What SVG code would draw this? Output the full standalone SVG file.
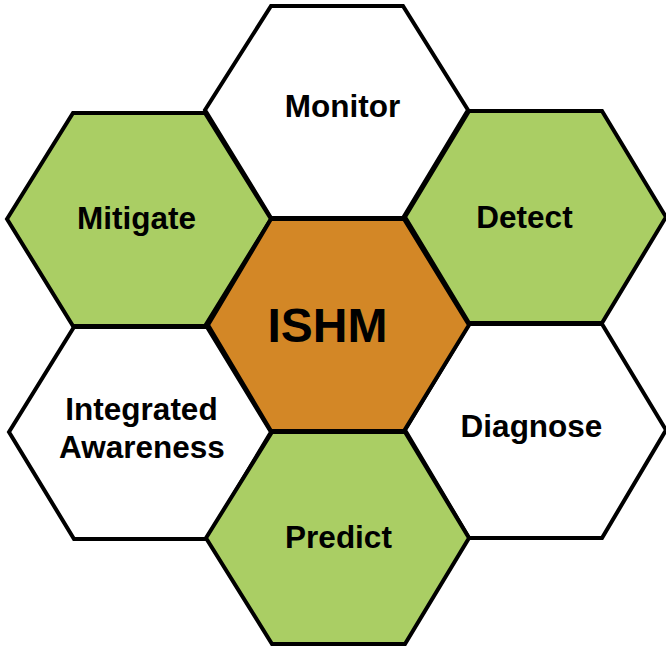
<svg xmlns="http://www.w3.org/2000/svg" width="666" height="646" viewBox="0 0 666 646">
<style>
.hex{stroke:#000;stroke-width:4;stroke-linejoin:miter}
.w{fill:#fff}.g{fill:#AACE64}.o{fill:#D38726}
text{font-family:"Liberation Sans",Arial,sans-serif;font-weight:bold;fill:#000;text-anchor:middle}
.t{font-size:31.5px}.big{font-size:48px}
</style>
<rect width="666" height="646" fill="#fff"/>
<g id="connectors"/>
<g id="monitor"><polygon class="hex w" points="205,110 271,6 403,6 468,110 403,218 271,218"/><text class="t" x="342.5" y="117">Monitor</text></g>
<g id="mitigate"><polygon class="hex g" points="7,219 73,113 205,113 271,219 205,326 73,326"/><text class="t" x="136.5" y="229">Mitigate</text></g>
<g id="detect"><polygon class="hex g" points="405,217 469,111 602,111 666,217 602,323 469,323"/><text class="t" x="524.5" y="228">Detect</text></g>
<g id="awareness"><polygon class="hex w" points="9,432 74,327 207,327 271,432 207,539 74,539"/><text class="t" x="141.5" y="420">Integrated</text><text class="t" x="142" y="458">Awareness</text></g>
<g id="diagnose"><polygon class="hex w" points="405,430 469,324 602,324 666,430 602,538 469,538"/><text class="t" x="531.5" y="437">Diagnose</text></g>
<g id="predict"><polygon class="hex g" points="206,538 272,432 405,432 469,538 405,644 272,644"/><text class="t" x="338.5" y="548">Predict</text></g>
<g id="ishm"><polygon class="hex o" points="208,325 271,219 404,219 469,325 404,431 271,431"/><text class="big" x="327.5" y="342">ISHM</text></g>
</svg>
